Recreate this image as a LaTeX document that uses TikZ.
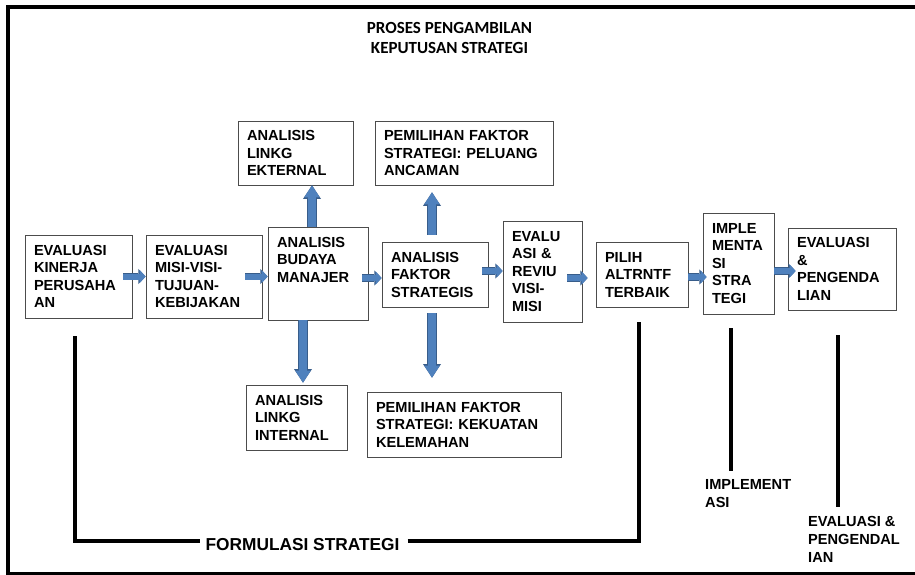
\documentclass[tikz,border=0pt]{standalone}
\usepackage{fontspec}
\setmainfont{Liberation Sans}
\newfontfamily\judulfont{Carlito}
\usetikzlibrary{positioning,calc,arrows.meta}
\definecolor{birupanah}{HTML}{4F81BD}
\definecolor{garispanah}{HTML}{385D8A}

\begin{document}
\begin{tikzpicture}[x=1pt,y=-1pt,
	kotak/.style={draw=black!70,line width=0.7pt,align=left,inner xsep=9pt,inner ysep=0pt,font=\bfseries\fontsize{14.6}{17.5}\selectfont},
	teks/.style={inner sep=0pt,align=left,font=\bfseries\fontsize{14.6}{18}\selectfont},
	panah/.style={draw=birupanah,line width=6pt,-{Triangle[length=6pt,width=13pt,line width=0pt]},preaction={draw=garispanah,line width=7.6pt,-{Triangle[length=7.4pt,width=15.4pt,line width=0pt]}}},
	panahtegak/.style={draw=birupanah,line width=7.5pt,-{Triangle[length=12pt,width=15.5pt,line width=0pt]},preaction={draw=garispanah,line width=9.1pt,-{Triangle[length=13.6pt,width=18pt,line width=0pt]}}},
	garis/.style={line width=3.5pt,line join=miter}]
		\useasboundingbox (0,0) rectangle (915,575);
		\clip (0,0) rectangle (915,575);
		\draw[line width=4pt] (925,7) -- (8,7) -- (8,573.5) -- (925,573.5);
		
		\node[font=\judulfont\bfseries\fontsize{17}{20}\selectfont,align=center,inner sep=0pt,anchor=north] (judul) at (449.5,22) {PROSES PENGAMBILAN\\KEPUTUSAN STRATEGI};
		
		\node[kotak,text width=89pt,minimum height=83pt] (kinerja) at (78.5,276.5) {EVALUASI\\KINERJA\\PERUSAHA\\AN};
		\node[kotak,text width=98pt,minimum height=83pt] (misi) at (204,276.5) {EVALUASI\\MISI-VISI-\\TUJUAN-\\KEBIJAKAN};
		\node[kotak,text width=82pt,minimum height=93pt] (budaya) at (318,273.5) {ANALISIS\\BUDAYA\\MANAJER\\[10.5pt]~};
		\node[kotak,text width=97pt,minimum height=64pt] (eksternal) at (295.5,153) {ANALISIS\\LINKG\\EKTERNAL};
		\node[kotak,text width=160pt,minimum height=64pt] (peluang) at (464,153) {PEMILIHAN FAKTOR\\STRATEGI: PELUANG\\ANCAMAN};
		\node[kotak,text width=88pt,minimum height=65pt] (faktor) at (435,274.5) {ANALISIS\\FAKTOR\\STRATEGIS};
		\node[kotak,text width=61pt,minimum height=101pt] (reviu) at (542.5,271.5) {EVALU\\ASI \&\\REVIU\\VISI-\\MISI};
		\node[kotak,text width=74pt,minimum height=65pt] (pilih) at (642,274.5) {PILIH\\ALTRNTF\\TERBAIK};
		\node[kotak,text width=53pt,minimum height=101pt] (implementasi) at (738.5,263.5) {IMPLE\\MENTA\\SI\\STRA\\TEGI};
		\node[kotak,text width=90pt,minimum height=82pt] (kendali) at (842,269) {EVALUASI\\\&\\PENGENDA\\LIAN};
		\node[kotak,text width=83pt,minimum height=65pt] (internal) at (296.5,417.5) {ANALISIS\\LINKG\\INTERNAL};
		\node[kotak,text width=176pt,minimum height=65pt] (kekuatan) at (464,424.5) {PEMILIHAN FAKTOR\\STRATEGI: KEKUATAN\\KELEMAHAN};
		
		\draw[panah] ([xshift=-9pt]kinerja.east) -- (misi.west);
		\draw[panah] ([xshift=-17pt]misi.east) -- (budaya.west |- misi.east);
		\draw[panah] ([xshift=-6pt,yshift=-4.5pt]budaya.east) coordinate (a1) -- (faktor.west |- a1);
		\draw[panah] ([xshift=-6pt,yshift=3.5pt]faktor.east) coordinate (a2) -- (reviu.west |- a2);
		\draw[panah] ([xshift=-15pt,yshift=-6.5pt]reviu.east) coordinate (a3) -- ($(pilih.west |- a3)+(-8,0)$);
		\draw[panah] ([yshift=-2.5pt]pilih.east) coordinate (a4) -- ($(implementasi.west |- a4)+(4,0)$);
		\draw[panah] ([yshift=-7.5pt]implementasi.east) coordinate (a5) -- ($(kendali.west |- a5)+(8,0)$);
		
		\draw[panahtegak] ([xshift=-6pt]budaya.north) coordinate (b1) -- (eksternal.south -| b1);
		\draw[panahtegak] ([xshift=-15pt]budaya.south) coordinate (b2) -- ($(internal.north -| b2)+(0,-2)$);
		\draw[panahtegak] ([xshift=-3pt,yshift=7pt]faktor.north) coordinate (b3) -- ($(peluang.south -| b3)+(0,7)$);
		\draw[panahtegak] ([xshift=-3pt,yshift=-6pt]faktor.south) coordinate (b4) -- ($(kekuatan.north -| b4)+(0,-14)$);
		
		\node[teks,font=\bfseries\fontsize{17.3}{20}\selectfont] (formulasi) at (302.5,545) {FORMULASI STRATEGI};
		\coordinate (kiri) at (75,336);
		\coordinate (kanan) at (639,322);
		\coordinate (dasar) at (0,541);
		\draw[garis] (kiri) -- (kiri |- dasar) -- ($(formulasi.west |- dasar)+(-5,0)$);
		\draw[garis] ($(formulasi.east |- dasar)+(8,0)$) -- (kanan |- dasar) -- (kanan);
		
		\node[teks,anchor=north west] (labelimpl) at (705,479) {IMPLEMENT\\ASI};
		\coordinate (i1) at (731,328);
		\draw[garis] (i1) -- ($(labelimpl.north -| i1)+(0,-8)$);
		\node[teks,anchor=north west] (labelkendali) at (808,516) {EVALUASI \&\\PENGENDAL\\IAN};
		\coordinate (e1) at (838,335);
		\draw[garis] (e1) -- ($(labelkendali.north -| e1)+(0,-9)$);
	\end{tikzpicture}
\end{document}
